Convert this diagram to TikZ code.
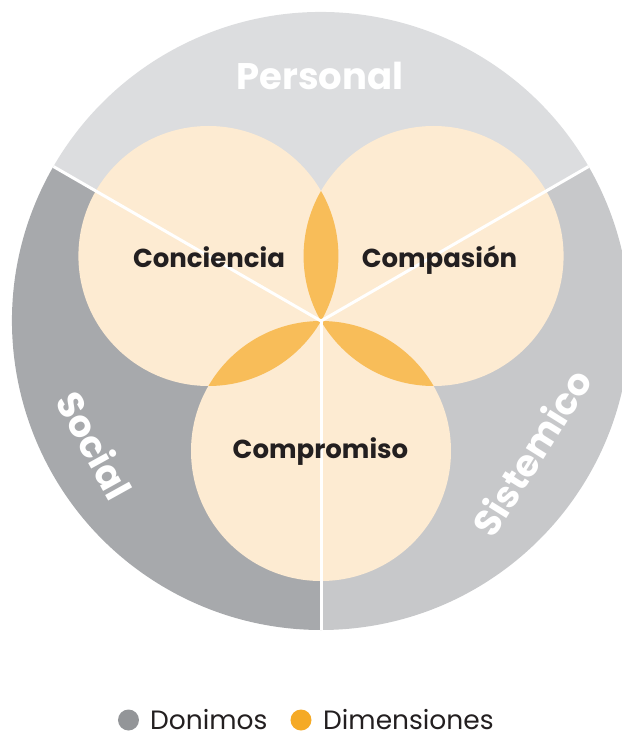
\documentclass[tikz,border=0pt]{standalone}
\usepackage{fontspec}
\setmainfont{Poppins}
\usetikzlibrary{positioning}
\definecolor{personal}{HTML}{DCDDDF}
\definecolor{social}{HTML}{A7A9AC}
\definecolor{sistemico}{HTML}{C7C8CA}
\definecolor{peach}{HTML}{FDEBD2}
\definecolor{lens}{HTML}{F8BD59}
\definecolor{textmain}{HTML}{231F20}
\definecolor{dotgray}{HTML}{939598}
\definecolor{dotorange}{HTML}{F5AA26}

\begin{document}
\begin{tikzpicture}[x=1pt, y=1pt,
  domainlabel/.style={font=\fontsize{37}{40}\selectfont\bfseries, text=white},
  dimension/.style={font=\fontsize{26}{28}\selectfont\bfseries, text=textmain, anchor=base},
  legend/.style={font=\fontsize{26.5}{30}\selectfont, text=textmain, anchor=west,
    inner sep=0pt, text height=19pt, text depth=0pt},
  divider/.style={white, line width=3pt},
]
\useasboundingbox (-321,-415) rectangle (300,321);

% Sectors of the outer circle
\fill[personal] (0,0) -- (30:309) arc[start angle=30, end angle=150, radius=309] -- cycle;
\fill[social] (0,0) -- (150:309) arc[start angle=150, end angle=270, radius=309] -- cycle;
\fill[sistemico] (0,0) -- (270:309) arc[start angle=270, end angle=390, radius=309] -- cycle;

% Dimension circles
\fill[peach] (150:130) circle (130);
\fill[peach] (30:130) circle (130);
\fill[peach] (270:130) circle (130);

% Overlaps
\begin{scope}
  \clip (150:130) circle (130);
  \fill[lens] (30:130) circle (130);
  \fill[lens] (270:130) circle (130);
\end{scope}
\begin{scope}
  \clip (30:130) circle (130);
  \fill[lens] (270:130) circle (130);
\end{scope}

% Dividers
\draw[divider] (0,0) -- (30:309);
\draw[divider] (0,0) -- (150:309);
\draw[divider] (0,0) -- (270:309);

% Domain labels
\node[domainlabel, anchor=base] (personal) at (-1,231) {Personal};
\node[domainlabel, rotate=-61] (social) at (208.8:258) {Social};
\node[domainlabel, rotate=58] (sistemico) at (-32:248) {Sistemico};

% Dimension labels
\node[dimension] (conciencia) at (-112,53) {Conciencia};
\node[dimension] (compasion) at (118.5,53) {Compasión};
\node[dimension] (compromiso) at (-0.5,-137) {Compromiso};

% Legend
\fill[dotgray] (-192.5,-399) circle (10.5);
\node[legend] (donimos) at (-171,-399) {Donimos};
\fill[dotorange] (-20,-399) circle (10.5);
\node[legend] (dimensiones) at (2,-399) {Dimensiones};

\end{tikzpicture}
\end{document}
